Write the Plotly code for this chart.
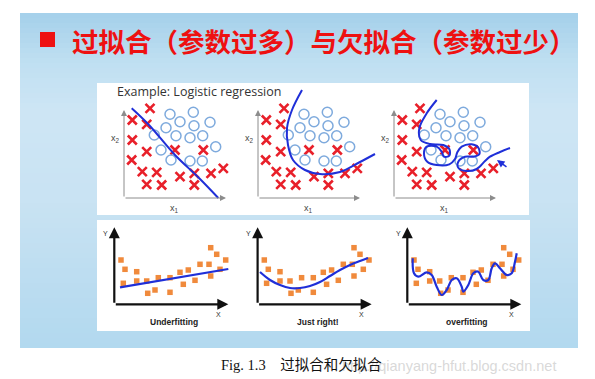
import plotly.graph_objects as go

W, H = 595, 379

# ---------------- data (top row: logistic regression, shared across 3 panels) ----------------
cross_x = [2.6, 0.83, 2.27, 0.83, 2.27, 5.1, 7.93, 0.77, 1.83, 3.27, 5.6, 7.03, 8.7, 9.93, 2.27, 3.77, 7.03]
cross_y = [8.97, 7.8, 7.37, 5.8, 4.63, 4.8, 4.8, 3.8, 2.63, 2.57, 2.13, 2.47, 2.47, 2.97, 1.37, 1.3, 1.3]
circle_x = [4.6, 6.93, 5.6, 4.2, 7.0, 8.6, 3.03, 5.2, 6.6, 7.87, 3.7, 9.17, 4.7, 6.6, 7.83]
circle_y = [8.37, 8.57, 7.63, 7.03, 7.23, 7.57, 6.3, 6.23, 6.03, 6.23, 4.8, 5.13, 3.8, 3.7, 3.7]

under2d_x = [0.77, 2.5, 5.1, 7.5, 9.43]
under2d_y = [8.97, 7.3, 4.3, 2.0, 0.0]
good2d_x = [4.4, 3.4, 2.9, 3.0, 3.5, 4.7, 6.2, 8.2, 10.2, 11.7]
good2d_y = [10.8, 8.8, 7.0, 5.3, 3.8, 2.8, 2.4, 2.6, 3.6, 4.4]
over2d_x = [4.27, 3.27, 2.53, 2.67, 3.6, 4.93, 5.53, 5.53, 5.0, 4.77, 4.27, 3.27, 3.0, 3.33, 4.27,
            5.53, 6.1, 6.33, 6.77, 7.77, 8.43, 8.53, 7.93, 7.1, 6.43, 6.43, 7.27, 8.27, 9.1, 9.6, 10.6, 11.6]
over2d_y = [9.8, 8.47, 6.97, 5.8, 5.4, 5.3, 4.9, 4.23, 4.13, 4.63, 5.13, 5.13, 4.47, 3.63, 3.3,
            3.37, 3.9, 4.57, 5.13, 5.37, 5.03, 4.37, 4.13, 4.13, 3.63, 3.03, 2.7, 2.9, 3.7, 4.13, 4.6, 5.0]

# ---------------- data (bottom row: regression, shared across 3 panels) ----------------
reg_x = [0.67, 1.07, 0.9, 2.24, 2.24, 3.24, 3.34, 4.07, 4.4, 5.57, 5.57, 6.57, 6.9, 7.4, 8.07,
         8.57, 9.47, 9.64, 10.24, 9.64, 10.57, 11.14]
reg_y = [4.43, 3.5, 2.1, 3.26, 2.33, 2.33, 1.1, 1.43, 2.66, 2.66, 1.2, 3.2, 2.0, 3.43, 2.4,
         4.0, 4.0, 5.66, 5.0, 2.83, 3.5, 4.43]
underfit_x = [0.57, 11.4]
underfit_y = [1.7, 3.53]
just_x = [0.24, 1.24, 2.24, 3.24, 4.24, 5.24, 6.24, 7.24, 8.24, 9.24, 10.24, 11.04]
just_y = [3.23, 2.43, 1.93, 1.63, 1.63, 1.83, 2.23, 2.83, 3.43, 3.93, 4.33, 4.63]
overfit_x = [0.54, 0.67, 1.1, 1.94, 2.44, 2.94, 3.44, 3.94, 4.44, 4.94, 5.44, 5.6, 6.1, 6.6, 7.1,
             7.6, 8.1, 8.44, 8.77, 9.27, 9.94, 10.44, 10.77, 10.94]
overfit_y = [4.6, 3.1, 2.76, 3.2, 2.93, 1.76, 0.93, 1.43, 2.43, 2.6, 1.76, 1.26, 1.93, 3.1, 3.26,
             2.43, 2.43, 3.6, 4.1, 3.6, 2.93, 3.1, 4.26, 5.1]

bottom_labels = ["Underfitting", "Just right!", "overfitting"]
title_text = "过拟合（参数过多）与欠拟合（参数过少）"
caption_text = "Fig. 1.3&nbsp;&nbsp;&nbsp;&nbsp;过拟合和欠拟合"
watermark_text = "http://qianyang-hfut.blog.csdn.net"

# ---------------- layout helpers ----------------
def px_x(p):
    return p / W

def px_y(p):
    return 1 - p / H

SCALE = 10.0  # pixels per data unit

top_origins = [124, 258, 394]
top_oy = 198
top_boxes = [(110, 244), (244, 378), (380, 522)]
top_py = (84, 214)

bot_origins = [114.3, 257.6, 407.3]
bot_oy = 304.3
bot_boxes = [(100, 243), (243, 390), (393, 528)]
bot_py = (221, 330)

fig = go.Figure()
layout = dict(
    width=W, height=H, margin=dict(l=0, r=0, t=0, b=0),
    paper_bgcolor="white", plot_bgcolor="rgba(0,0,0,0)", showlegend=False,
)
shapes = []
annotations = []

# slide gradient background
stops = [(13, (166, 209, 235)), (60, (192, 224, 242)), (110, (206, 230, 245)),
         (200, (201, 227, 243)), (280, (188, 221, 241)), (348, (178, 217, 239))]
y = 13
while y < 348:
    for (a, ca), (b, cb) in zip(stops[:-1], stops[1:]):
        if a <= y <= b:
            t = (y - a) / (b - a)
            c = tuple(int(ca[k] + (cb[k] - ca[k]) * t) for k in range(3))
            break
    shapes.append(dict(type="rect", xref="paper", yref="paper", layer="below",
                       x0=px_x(20), x1=px_x(578), y0=px_y(min(y + 5, 348)), y1=px_y(y),
                       fillcolor="rgb(%d,%d,%d)" % c, line=dict(width=0)))
    y += 5

# white panels
shapes.append(dict(type="rect", xref="paper", yref="paper", layer="below",
                   x0=px_x(97), x1=px_x(529), y0=px_y(215), y1=px_y(83),
                   fillcolor="white", line=dict(width=0)))
shapes.append(dict(type="rect", xref="paper", yref="paper", layer="below",
                   x0=px_x(97), x1=px_x(530), y0=px_y(331), y1=px_y(220),
                   fillcolor="white", line=dict(width=0)))
# red title square
shapes.append(dict(type="rect", xref="paper", yref="paper",
                   x0=px_x(40), x1=px_x(55), y0=px_y(47), y1=px_y(32),
                   fillcolor="#ee1111", line=dict(width=0)))

BLUE = "#1f2fd8"
RED = "#e8202a"
ORANGE = "#f08a3c"

top_curves = [(under2d_x, under2d_y), (good2d_x, good2d_y), (over2d_x, over2d_y)]
for i in range(3):
    n = i + 1
    ox = top_origins[i]
    bx0, bx1 = top_boxes[i]
    xa = "x" if n == 1 else "x%d" % n
    ya = "y" if n == 1 else "y%d" % n
    layout["xaxis" if n == 1 else "xaxis%d" % n] = dict(
        domain=[px_x(bx0), px_x(bx1)], range=[(bx0 - ox) / SCALE, (bx1 - ox) / SCALE],
        visible=False, fixedrange=True, anchor=ya)
    layout["yaxis" if n == 1 else "yaxis%d" % n] = dict(
        domain=[px_y(top_py[1]), px_y(top_py[0])],
        range=[(top_oy - top_py[1]) / SCALE, (top_oy - top_py[0]) / SCALE],
        visible=False, fixedrange=True, anchor=xa)
    cx, cy = top_curves[i]
    fig.add_trace(go.Scatter(x=cross_x, y=cross_y, mode="markers", xaxis=xa, yaxis=ya,
                             marker=dict(symbol="x-thin", size=9, line=dict(width=2.6, color=RED)),
                             hoverinfo="skip"))
    fig.add_trace(go.Scatter(x=circle_x, y=circle_y, mode="markers", xaxis=xa, yaxis=ya,
                             marker=dict(symbol="circle-open", size=10, color="#7eaadd",
                                         line=dict(width=1.5, color="#7eaadd")),
                             hoverinfo="skip"))
    fig.add_trace(go.Scatter(x=cx, y=cy, mode="lines", xaxis=xa, yaxis=ya,
                             line=dict(color=BLUE, width=2, shape="spline", smoothing=1.0),
                             hoverinfo="skip"))
    annotations.append(dict(x=0, y=8.8, ax=0, ay=0, xref=xa, yref=ya, axref=xa, ayref=ya,
                            text="", showarrow=True, arrowhead=2, arrowsize=1.2, arrowwidth=1,
                            arrowcolor="#8c8c8c", standoff=0))
    annotations.append(dict(x=10.2, y=0, ax=0, ay=0, xref=xa, yref=ya, axref=xa, ayref=ya,
                            text="", showarrow=True, arrowhead=2, arrowsize=1.2, arrowwidth=1,
                            arrowcolor="#8c8c8c", standoff=0))
    annotations.append(dict(x=px_x(ox - 9), y=px_y(139), xref="paper", yref="paper",
                            xanchor="center", yanchor="middle",
                            text="x<sub>2</sub>", showarrow=False,
                            font=dict(size=9, color="#444", family="Liberation Sans")))
    annotations.append(dict(x=px_x(ox + 50), y=px_y(208), xref="paper", yref="paper",
                            xanchor="center", yanchor="middle",
                            text="x<sub>1</sub>", showarrow=False,
                            font=dict(size=9, color="#444", family="Liberation Sans")))

# little hand-drawn arrow in overfit classification panel
annotations.append(dict(x=10.3, y=3.8, ax=11.4, ay=3.0, xref="x3", yref="y3", axref="x3", ayref="y3",
                        text="", showarrow=True, arrowhead=2, arrowsize=1, arrowwidth=1.5,
                        arrowcolor=BLUE, standoff=0))

annotations.append(dict(x=px_x(115), y=px_y(92), xref="paper", yref="paper",
                        xanchor="left", yanchor="middle",
                        text="Example: Logistic regression", showarrow=False,
                        font=dict(size=12.5, color="#333", family="Open Sans")))

bot_curves = [(underfit_x, underfit_y), (just_x, just_y), (overfit_x, overfit_y)]
for i in range(3):
    n = i + 4
    ox = bot_origins[i]
    bx0, bx1 = bot_boxes[i]
    xa = "x%d" % n
    ya = "y%d" % n
    layout["xaxis%d" % n] = dict(
        domain=[px_x(bx0), px_x(bx1)], range=[(bx0 - ox) / SCALE, (bx1 - ox) / SCALE],
        visible=False, fixedrange=True, anchor=ya)
    layout["yaxis%d" % n] = dict(
        domain=[px_y(bot_py[1]), px_y(bot_py[0])],
        range=[(bot_oy - bot_py[1]) / SCALE, (bot_oy - bot_py[0]) / SCALE],
        visible=False, fixedrange=True, anchor=xa)
    cx, cy = bot_curves[i]
    fig.add_trace(go.Scatter(x=reg_x, y=reg_y, mode="markers", xaxis=xa, yaxis=ya,
                             marker=dict(symbol="square", size=5.5, color=ORANGE),
                             hoverinfo="skip"))
    fig.add_trace(go.Scatter(x=cx, y=cy, mode="lines", xaxis=xa, yaxis=ya,
                             line=dict(color=BLUE, width=2.2, shape="spline", smoothing=1.0),
                             hoverinfo="skip"))
    annotations.append(dict(x=0, y=7.7, ax=0, ay=0, xref=xa, yref=ya, axref=xa, ayref=ya,
                            text="", showarrow=True, arrowhead=2, arrowsize=1, arrowwidth=2.2,
                            arrowcolor="#111", standoff=0))
    annotations.append(dict(x=11.4, y=0, ax=0, ay=0, xref=xa, yref=ya, axref=xa, ayref=ya,
                            text="", showarrow=True, arrowhead=2, arrowsize=1, arrowwidth=2.2,
                            arrowcolor="#111", standoff=0))
    annotations.append(dict(x=px_x(ox - 9), y=px_y(233), xref="paper", yref="paper",
                            xanchor="center", yanchor="middle",
                            text="Y", showarrow=False,
                            font=dict(size=7, color="#333", family="Liberation Sans")))
    annotations.append(dict(x=px_x(ox + 104), y=px_y(314), xref="paper", yref="paper",
                            xanchor="center", yanchor="middle",
                            text="X", showarrow=False,
                            font=dict(size=7, color="#333", family="Liberation Sans")))
    annotations.append(dict(x=px_x(ox + 60), y=px_y(322), xref="paper", yref="paper",
                            xanchor="center", yanchor="middle",
                            text="<b>%s</b>" % bottom_labels[i], showarrow=False,
                            font=dict(size=8.5, color="#222", family="Liberation Sans")))

# title
annotations.append(dict(x=px_x(324), y=px_y(40), xref="paper", yref="paper",
                        xanchor="center", yanchor="middle",
                        text="<b>%s</b>" % title_text, showarrow=False,
                        font=dict(size=26.5, color="#ee1111", family="Noto Sans CJK SC")))
# watermark + caption
annotations.append(dict(x=px_x(340), y=px_y(366), xref="paper", yref="paper",
                        xanchor="left", yanchor="middle",
                        text=watermark_text, showarrow=False,
                        font=dict(size=14.5, color="rgba(200,200,200,0.7)", family="Liberation Sans")))
annotations.append(dict(x=px_x(301), y=px_y(365), xref="paper", yref="paper",
                        xanchor="center", yanchor="middle",
                        text=caption_text, showarrow=False,
                        font=dict(size=14.5, color="#111", family="Liberation Serif, Noto Sans CJK SC")))

layout["shapes"] = shapes
layout["annotations"] = annotations
fig.update_layout(**layout)
fig.write_html("out.html", config={"displayModeBar": False},
               post_script="document.body.style.margin='0';document.body.style.padding='0';")
